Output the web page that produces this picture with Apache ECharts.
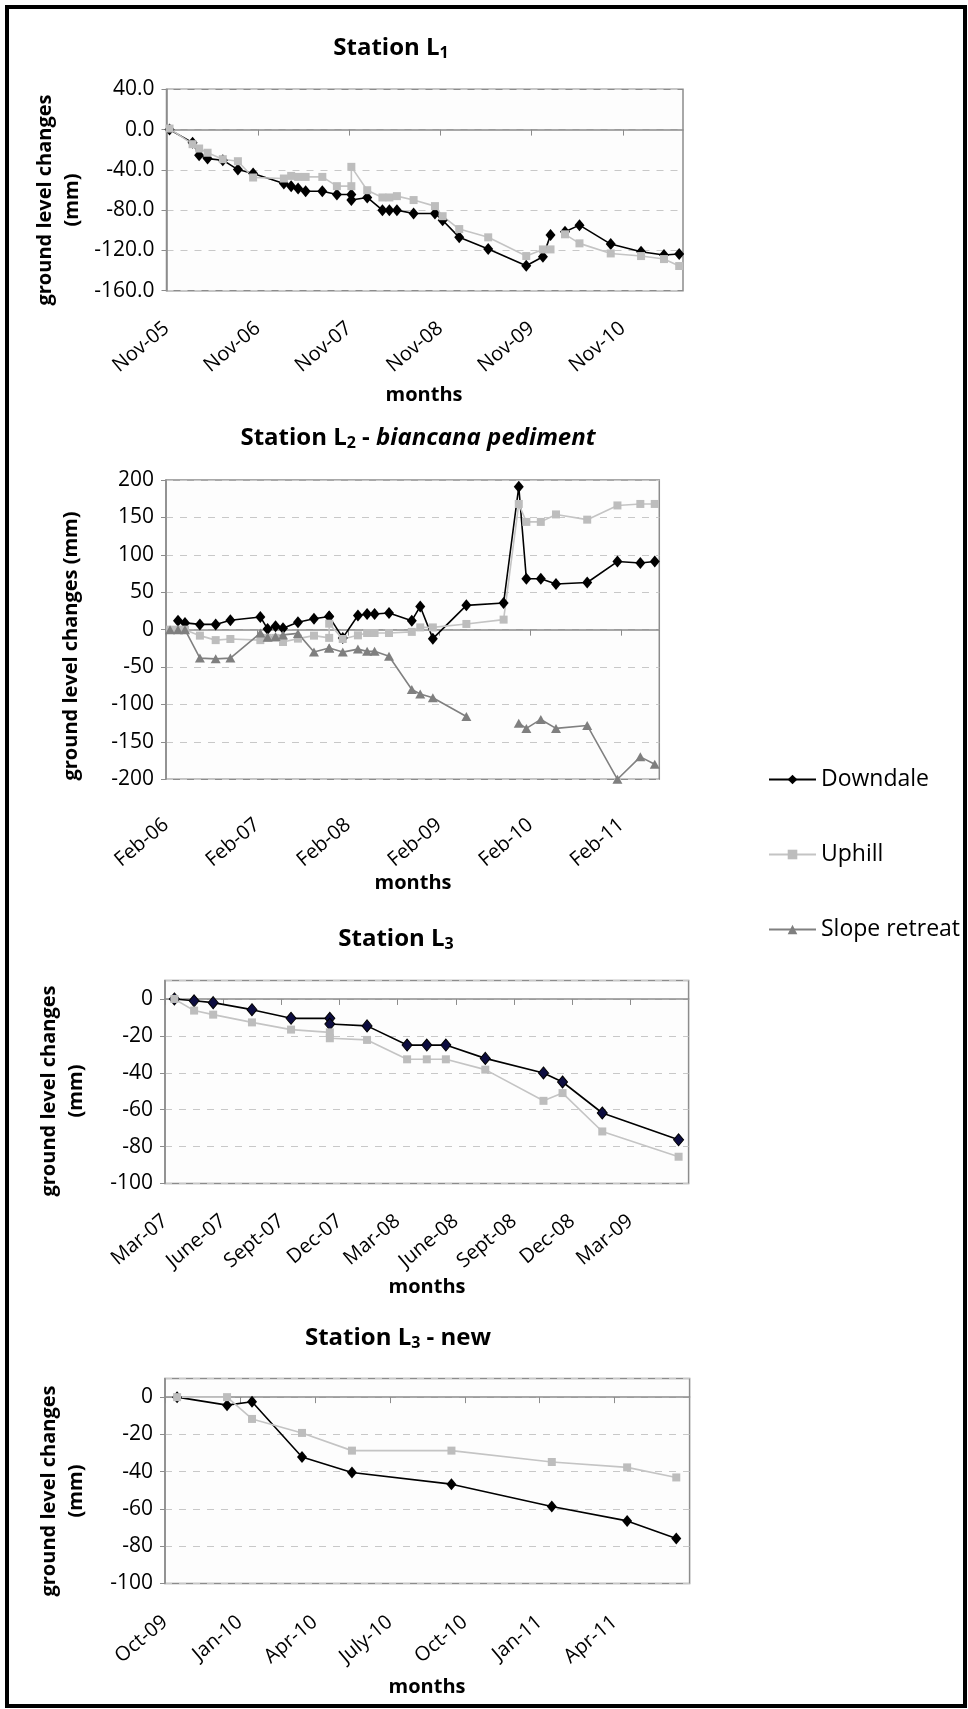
<!DOCTYPE html>
<html>
<head>
<meta charset="utf-8">
<script src="https://cdn.jsdelivr.net/npm/echarts@6/dist/echarts.min.js"></script>
<style>
html, body { margin: 0; padding: 0; background: #fff; }
#main { width: 968px; height: 1709px; }
</style>
</head>
<body>
<div id="main"></div>
<script>
var monthNames = ['Jan', 'Feb', 'Mar', 'Apr', 'May', 'June', 'July', 'Aug', 'Sept', 'Oct', 'Nov', 'Dec'];
var seriesNames = ['Downdale', 'Uphill', 'Slope retreat'];

// Station L1 (axis starts Nov-05)
var datesL1 = ['2005-11-13', '2006-02-13', '2006-03-10', '2006-04-13', '2006-06-13', '2006-08-13', '2006-10-13',
    '2007-02-13', '2007-03-13', '2007-04-10', '2007-05-10', '2007-07-16', '2007-09-13', '2007-11-10', '2007-11-10',
    '2008-01-13', '2008-03-13', '2008-04-10', '2008-05-10', '2008-07-16', '2008-10-10', '2008-11-10', '2009-01-16',
    '2009-05-10', '2009-10-10', '2009-12-16', '2010-01-16', '2010-02-15', '2010-03-13', '2010-05-10', '2010-09-13',
    '2011-01-13', '2011-04-13', '2011-06-13'];
var downL1 = [0, -13, -25.5, -28.8, -30.4, -39.7, -43.6, -53.6, -56.2, -58.5, -61.2, -61.2, -64.5, -64.5, -70,
    -67.4, -80, -80, -80, -83.3, -83.3, -90, -107, -118.5, -135.3, -126.3, -104.8, null, -101.5, -94.9, -113.7,
    -121.3, -124.6, -123.6];
var upL1 = [1, -14.5, -18.8, -23, -29.4, -31.4, -47.6, -48.6, -46, -47, -47, -47, -56.2, -56.2, -37,
    -60.2, -67.4, -67.4, -66.1, -70, -76, -86, -98.8, -107, -125.6, -119, -119, null, -104, -113, -123,
    -125.6, -128.6, -135.5];

// Station L2 (axis starts Feb-06)
var datesL2 = ['2006-02-16', '2006-03-19', '2006-04-16', '2006-06-15', '2006-08-18', '2006-10-16', '2007-02-13',
    '2007-03-13', '2007-04-14', '2007-05-14', '2007-07-13', '2007-09-16', '2007-11-16', '2007-11-16', '2008-01-10',
    '2008-03-10', '2008-04-16', '2008-05-16', '2008-07-13', '2008-10-13', '2008-11-16', '2009-01-06', '2009-05-19',
    '2009-10-16', '2009-12-16', '2010-01-16', '2010-03-13', '2010-05-13', '2010-09-16', '2011-01-16', '2011-04-16',
    '2011-06-13'];
var downL2 = [null, 12, 9, 7, 7, 12.5, 17, 1, 4.5, 2, 10, 14.5, 17.5, 17.5, -11, 19, 21, 21, 22.3, 12, 31, -12, 32.5,
    35.6, 191, 68, 68, 61, 63, 91, 89, 91];
var upL2 = [0, 0, 0, -8, -14, -12.5, -14, -11, -11, -16.5, -12, -8, -11, 8, -12.5, -7.6, -4.5, -4.5, -4.5, -3, 3, 3, 7.6,
    13.4, 168, 144, 144, 154, 147, 166, 168, 168];
var slopeL2 = [0, 0, 0, -38, -39, -38, -4.5, -10, -9, -7, -5, -30, -24.5, -24.5, -30, -26, -29, -29, -35.6, -80, -86, -91,
    -116, null, -125, -132, -120, -132, -128, -200, -170, -180];

// Station L3 (axis starts Mar-07)
var datesL3 = ['2007-03-16', '2007-04-16', '2007-05-16', '2007-07-16', '2007-09-16', '2007-11-16', '2007-11-16',
    '2008-01-14', '2008-03-16', '2008-04-16', '2008-05-16', '2008-07-17', '2008-10-17', '2008-11-16', '2009-01-18',
    '2009-05-16'];
var downL3 = [0, -1, -2, -5.8, -10.5, -10.5, -13.6, -14.6, -25, -25, -25, -32.2, -40.1, -45, -61.8, -76.3];
var upL3 = [0, -6.3, -8.5, -12.7, -16.6, -18.1, -21.3, -22.2, -32.7, -32.7, -32.7, -38.3, -55.2, -51, -71.8, -85.5];

// Station L3 - new (axis starts Oct-09)
var datesL3n = ['2009-10-16', '2009-12-16', '2010-01-16', '2010-03-16', '2010-05-16', '2010-09-15', '2011-01-16',
    '2011-04-16', '2011-06-15'];
var downL3n = [0, -4.3, -2.5, -32.1, -40.4, -46.7, -58.7, -66.4, -75.8];
var upL3n = [0, 0, -11.7, -19.2, -28.7, -28.7, -34.8, -37.7, -43.1];

var FONT = 'Open Sans';

// months elapsed since the first day of (y0, m0)
function monthsSince(s, y0, m0) {
    var p = s.split('-');
    var y = +p[0], m = +p[1], d = +p[2];
    var dim = new Date(y, m, 0).getDate();
    return (y - y0) * 12 + (m - m0) + (d - 1) / dim;
}

function pairs(dates, vals, y0, m0) {
    return dates.map(function (d, i) {
        return [monthsSince(d, y0, m0), vals[i] == null ? '-' : vals[i]];
    });
}

function monthLabel(y0, m0) {
    return function (v) {
        var t = Math.round(v) + (m0 - 1);
        var y = y0 + Math.floor(t / 12);
        return monthNames[t % 12] + '-' + String(y % 100).padStart(2, '0');
    };
}

function xAxisOf(idx, y0, m0, max, interval, margin) {
    return {
        type: 'value', gridIndex: idx, min: 0, max: max, interval: interval,
        axisLine: { show: true, lineStyle: { color: '#8c8c8c', width: 1.5 } },
        axisTick: { show: true, length: 6, lineStyle: { color: '#8c8c8c' } },
        splitLine: { show: false },
        axisLabel: {
            rotate: 40, margin: margin, color: '#000', fontFamily: FONT, fontSize: 20,
            showMaxLabel: false, formatter: monthLabel(y0, m0)
        }
    };
}

function yAxisOf(idx, min, max, interval, digits) {
    return {
        type: 'value', gridIndex: idx, min: min, max: max, interval: interval,
        axisLine: { show: true, lineStyle: { color: '#8c8c8c', width: 1.5 } },
        axisTick: { show: true, length: 5, lineStyle: { color: '#8c8c8c' } },
        splitLine: { show: true, lineStyle: { color: '#c8c8c8', type: [7, 7], width: 1 } },
        axisLabel: {
            margin: 12, color: '#000', fontFamily: FONT, fontSize: 21,
            showMaxLabel: max % interval === 0,
            formatter: function (v) { return v.toFixed(digits); }
        }
    };
}

function downSeries(idx, data, fill) {
    return {
        name: 'Downdale', type: 'line', xAxisIndex: idx, yAxisIndex: idx, data: data,
        symbol: 'diamond', symbolSize: [10, 12], animation: false,
        itemStyle: { color: fill || '#000', borderColor: '#000', borderWidth: fill ? 1 : 0 },
        lineStyle: { color: '#000', width: 1.6 }
    };
}
function upSeries(idx, data) {
    return {
        name: 'Uphill', type: 'line', xAxisIndex: idx, yAxisIndex: idx, data: data,
        symbol: 'rect', symbolSize: 8, animation: false,
        itemStyle: { color: '#bdbdbd' },
        lineStyle: { color: '#c4c4c4', width: 1.6 }
    };
}
function slopeSeries(idx, data) {
    return {
        name: 'Slope retreat', type: 'line', xAxisIndex: idx, yAxisIndex: idx, data: data,
        symbol: 'triangle', symbolSize: [10, 9], animation: false,
        itemStyle: { color: '#7f7f7f' },
        lineStyle: { color: '#808080', width: 1.6 }
    };
}

var gridBase = { show: true, borderColor: '#8c8c8c', borderWidth: 1.5, backgroundColor: '#fdfdfd', containLabel: false };
var grids = [
    { left: 166.5, top: 89.3, width: 516.5, height: 201.4 },
    { left: 166, top: 480, width: 493.3, height: 299.3 },
    { left: 165, top: 980.5, width: 523.6, height: 203 },
    { left: 165, top: 1378.5, width: 524.6, height: 205 }
].map(function (g) { return Object.assign({}, gridBase, g); });

var titleStyle = {
    fontFamily: FONT, fontSize: 24, fontWeight: 'bold', color: '#000',
    rich: {
        s: { fontFamily: FONT, fontSize: 16, fontWeight: 'bold', color: '#000', padding: [10, 0, 0, 0] },
        i: { fontFamily: FONT, fontSize: 24, fontWeight: 'bold', fontStyle: 'italic', color: '#000' }
    }
};
function titleOf(text, x, y) {
    return { text: text, left: x, top: y, textAlign: 'center', padding: 0, textStyle: titleStyle };
}

function nameText(text, x, y, rotate) {
    return {
        type: 'text', x: x, y: y, rotation: rotate ? Math.PI / 2 : 0,
        style: {
            text: text, fill: '#000', align: 'center', verticalAlign: 'middle',
            font: 'bold 20px "Open Sans"', lineHeight: 27
        }
    };
}

var chart = echarts.init(document.getElementById('main'));
chart.setOption({
    backgroundColor: '#fff',
    animation: false,
    title: [
        titleOf('Station L{s|1}', 391, 35),
        titleOf('Station L{s|2} - {i|biancana pediment}', 418, 425),
        titleOf('Station L{s|3}', 396, 926),
        titleOf('Station L{s|3} - new', 398, 1325)
    ],
    legend: {
        orient: 'vertical', left: 763, top: 763, itemWidth: 47, itemHeight: 12, itemGap: 52,
        textStyle: { fontFamily: FONT, fontSize: 23, color: '#000' },
        data: seriesNames
    },
    grid: grids,
    xAxis: [
        xAxisOf(0, 2005, 11, 67.9, 12, 35),
        xAxisOf(1, 2006, 2, 65, 12, 43),
        xAxisOf(2, 2007, 3, 27, 3, 35),
        xAxisOf(3, 2009, 10, 21, 3, 36)
    ],
    yAxis: [
        yAxisOf(0, -160, 40, 40, 1),
        yAxisOf(1, -200, 200, 50, 0),
        yAxisOf(2, -100, 10, 20, 0),
        yAxisOf(3, -100, 10, 20, 0)
    ],
    graphic: [
        { type: 'rect', shape: { x: 7, y: 7, width: 958, height: 1699 }, style: { fill: 'none', stroke: '#000', lineWidth: 4 } },
        nameText('ground level changes\n(mm)', 59, 200, true),
        nameText('ground level changes (mm)', 71, 646, true),
        nameText('ground level changes\n(mm)', 63, 1091, true),
        nameText('ground level changes\n(mm)', 63, 1491, true),
        nameText('months', 424, 395, false),
        nameText('months', 413, 883, false),
        nameText('months', 427, 1287, false),
        nameText('months', 427, 1687, false)
    ],
    series: [
        downSeries(0, pairs(datesL1, downL1, 2005, 11)),
        upSeries(0, pairs(datesL1, upL1, 2005, 11)),
        downSeries(1, pairs(datesL2, downL2, 2006, 2)),
        upSeries(1, pairs(datesL2, upL2, 2006, 2)),
        slopeSeries(1, pairs(datesL2, slopeL2, 2006, 2)),
        downSeries(2, pairs(datesL3, downL3, 2007, 3), '#0d0d40'),
        upSeries(2, pairs(datesL3, upL3, 2007, 3)),
        downSeries(3, pairs(datesL3n, downL3n, 2009, 10)),
        upSeries(3, pairs(datesL3n, upL3n, 2009, 10))
    ]
});
</script>
</body>
</html>
